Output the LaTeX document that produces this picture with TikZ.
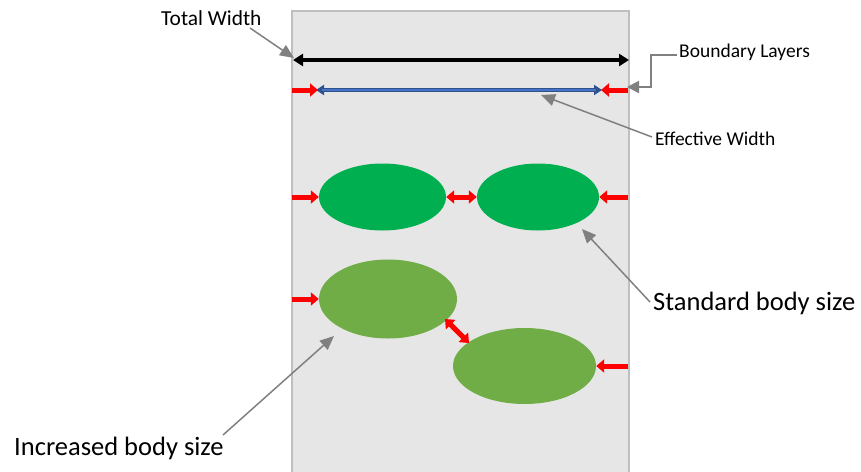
\documentclass[tikz,border=0pt]{standalone}
\usepackage{fontspec}
\setmainfont{Carlito}
\usetikzlibrary{arrows.meta,shapes.geometric}
\definecolor{bgfill}{HTML}{E6E6E6}
\definecolor{bgline}{HTML}{BFBFBF}
\definecolor{grn}{HTML}{00B050}
\definecolor{lgrn}{HTML}{70AD47}
\definecolor{bluefill}{HTML}{4472C4}
\definecolor{blueedge}{HTML}{2F528F}
\definecolor{callout}{HTML}{808080}
\definecolor{myred}{HTML}{FF0000}
\tikzset{
  lbl/.style={inner sep=0pt, anchor=base west, font=\fontsize{19.5}{23}\selectfont},
  biglbl/.style={inner sep=0pt, anchor=base west, font=\fontsize{26.5}{31}\selectfont},
  callarr/.style={draw=callout, line width=1.5pt, -{Triangle[length=14pt,width=12pt]}},
  redarr/.style={draw=myred, line width=5pt, -{Triangle[length=8pt,width=13pt]}},
  redboth/.style={draw=myred, line width=5pt, {Triangle[length=8pt,width=13pt]}-{Triangle[length=8pt,width=13pt]}},
  body/.style={ellipse, inner sep=0pt, draw=none},
}
\begin{document}
\begin{tikzpicture}[x=1pt,y=-1pt]
\useasboundingbox (0,0) rectangle (861,471);
% channel
\fill[bgfill] (291.5,10.5) rectangle (629,480);
\draw[bgline, line width=2pt] (291.5,480) -- (291.5,10.5) -- (629,10.5) -- (629,480);

% labels
\node[lbl, font=\fontsize{21.4}{25}\selectfont] (tw) at (161,25) {Total Width};
\node[lbl] (bl) at (679,57) {Boundary Layers};
\node[lbl] (ew) at (655,145) {Effective Width};
\node[biglbl] (sb) at (653,310) {Standard body size};
\node[biglbl] (ib) at (14,455) {Increased body size};

% total width arrow
\coordinate (twL) at (293,60);
\coordinate (twR) at (629,60);
\draw[black, line width=4pt, {Triangle[length=10pt,width=12pt]}-{Triangle[length=10pt,width=12pt]}] (twL) -- (twR);

% effective width arrow
\coordinate (ewL) at (316,90);
\coordinate (ewR) at (602,90);
\draw[blueedge, line width=4.5pt, {Triangle[length=8pt,width=10pt]}-{Triangle[length=8pt,width=10pt]}] (ewL) -- (ewR);
\draw[bluefill, line width=2.5pt] ([xshift=6pt]ewL) -- ([xshift=-6pt]ewR);

% boundary layer arrows top
\coordinate (blL0) at (292,90);
\coordinate (blL1) at (318,90);
\coordinate (blR0) at (628,90);
\coordinate (blR1) at (601,90);
\draw[redarr] (blL0) -- (blL1);
\draw[redarr] (blR0) -- (blR1);

% standard bodies
\node[body, fill=grn, minimum width=127pt, minimum height=67pt] (s1) at (382.5,197) {};
\node[body, fill=grn, minimum width=122pt, minimum height=67pt] (s2) at (538,197) {};
\coordinate (sL) at (292,197);
\coordinate (sR) at (628,197);
\draw[redarr] (sL) -- (s1.west);
\draw[redboth] (s1.east) -- (s2.west);
\draw[redarr] (sR) -- (s2.east);

% increased bodies
\node[body, fill=lgrn, minimum width=138pt, minimum height=79pt] (i1) at (388,299) {};
\node[body, fill=lgrn, minimum width=143pt, minimum height=76pt] (i2) at (524.5,366) {};
\coordinate (iL) at (292,299);
\coordinate (iR) at (628,366);
\coordinate (d1) at (445,319);
\coordinate (d2) at (469,343);
\draw[redarr] (iL) -- (i1.west);
\draw[redboth] (d1) -- (d2);
\draw[redarr] (iR) -- (i2.east);

% callouts
\coordinate (twS) at (250,28);
\coordinate (twT) at (294,58);
\draw[callarr] (twS) -- (twT);

\coordinate (blS) at (677,55);
\coordinate (blT) at (627,87);
\draw[callout, line width=2pt, -{Triangle[length=12pt,width=12pt]}] (blS) -- (651,55) -- (651,87) -- (blT);

\coordinate (ewS) at (652,137);
\coordinate (ewT) at (541,95);
\draw[callarr] (ewS) -- (ewT);

\coordinate (sbS) at (650,302);
\coordinate (sbT) at (582,229);
\draw[callarr] (sbS) -- (sbT);

\coordinate (ibS) at (223,435);
\coordinate (ibT) at (334,336);
\draw[callarr] (ibS) -- (ibT);
\end{tikzpicture}
\end{document}
